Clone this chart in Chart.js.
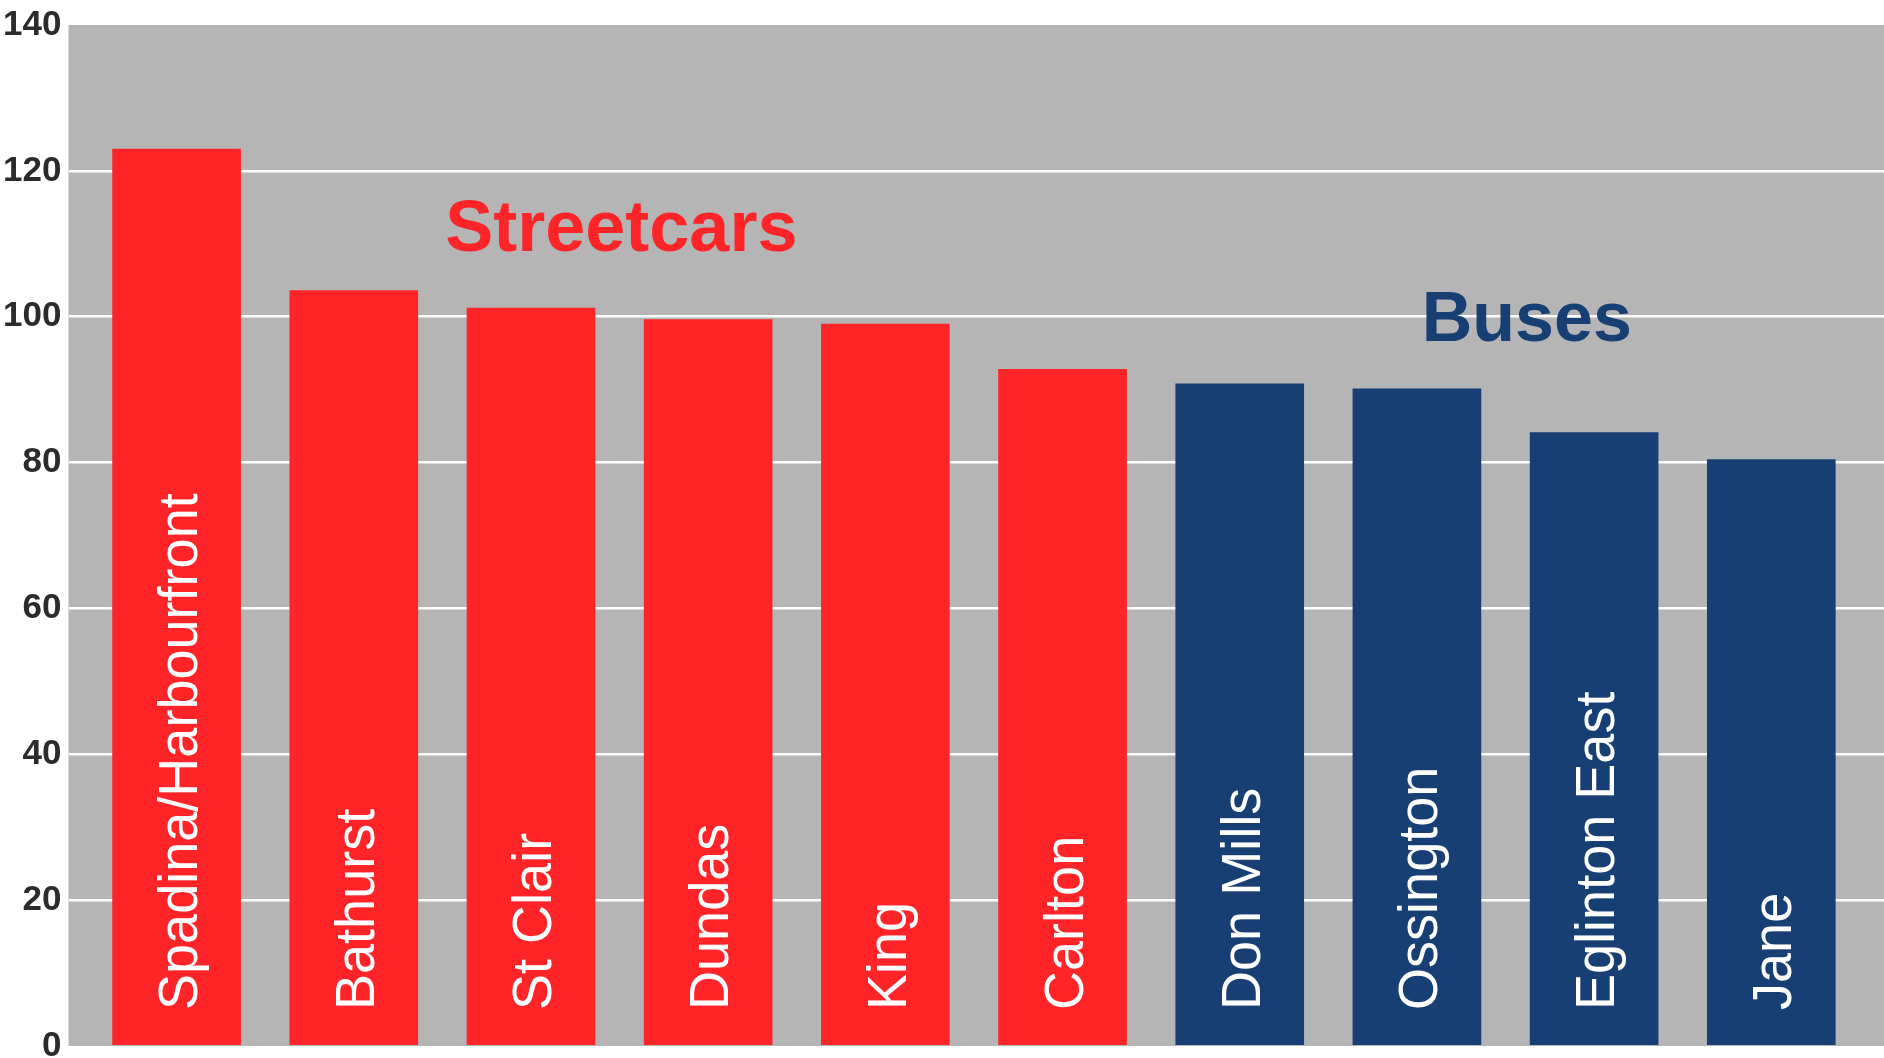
<!DOCTYPE html>
<html>
<head>
<meta charset="utf-8">
<style>
  html, body { margin: 0; padding: 0; background: #fff; }
  #wrap { width: 1884px; height: 1058px; position: relative; }
</style>
<script src="https://cdn.jsdelivr.net/npm/chart.js@4"></script>
</head>
<body>
<div id="wrap"><canvas id="routes"></canvas></div>
<script>
// busiest surface routes, ridership in thousands
const routes = ['Spadina/Harbourfront', 'Bathurst', 'St Clair', 'Dundas', 'King', 'Carlton',
                'Don Mills', 'Ossington', 'Eglinton East', 'Jane'];
const riders = [123.0, 103.6, 101.2, 99.6, 99.0, 92.8, 90.8, 90.1, 84.1, 80.4];
const mode = ['streetcar', 'streetcar', 'streetcar', 'streetcar', 'streetcar', 'streetcar',
              'bus', 'bus', 'bus', 'bus'];
const yTicks = [0, 20, 40, 60, 80, 100, 120, 140];

// group headings, placed in data units (x = route index, y = value)
const groupNames = ['Streetcars', 'Buses'];
const groupX = [2.51, 7.62];
const groupY = [109.0, 96.7];

const RED = '#ff2427';
const BLUE = '#183f74';
const GREY = '#b5b5b5';
const FONT = '"Liberation Sans", Arial, Helvetica, sans-serif';

const colorFor = m => (m === 'bus' ? BLUE : RED);

const plotBackground = {
    id: 'plotBackground',
    beforeDraw(chart) {
        const { ctx, chartArea: a } = chart;
        ctx.save();
        ctx.fillStyle = GREY;
        ctx.fillRect(a.left, a.top, a.right - a.left, a.bottom - a.top);
        ctx.restore();
    }
};

// route names written up the inside of each bar, plus the two group headings
const barLabels = {
    id: 'barLabels',
    afterDatasetsDraw(chart) {
        const { ctx, scales } = chart;
        const x = scales.x, y = scales.y;
        const size = 56;
        const base = y.getPixelForValue(0);
        ctx.save();
        ctx.fillStyle = '#ffffff';
        ctx.font = `${size}px ${FONT}`;
        ctx.textAlign = 'left';
        ctx.textBaseline = 'alphabetic';
        routes.forEach((name, i) => {
            const cx = x.getPixelForValue(i);
            ctx.save();
            ctx.translate(cx + size * 0.36, base - 36);
            ctx.rotate(-Math.PI / 2);
            ctx.scale(0.965, 1);
            ctx.fillText(name, 0, 0);
            ctx.restore();
        });

        ctx.textAlign = 'center';
        groupNames.forEach((g, i) => {
            ctx.fillStyle = i === 0 ? RED : BLUE;
            ctx.font = `bold ${i === 0 ? 72 : 70}px ${FONT}`;
            ctx.fillText(g, x.getPixelForValue(groupX[i]), y.getPixelForValue(groupY[i]));
        });
        ctx.restore();
    }
};

new Chart(document.getElementById('routes'), {
    type: 'bar',
    data: {
        datasets: [{
            data: riders.map((v, i) => ({ x: i, y: v })),
            backgroundColor: mode.map(colorFor),
            borderWidth: 0,
            barThickness: 128
        }]
    },
    options: {
        responsive: true,
        maintainAspectRatio: false,
        animation: false,
        layout: { padding: { top: 25, right: 0, bottom: 12, left: 0 } },
        plugins: {
            legend: { display: false },
            tooltip: { enabled: false }
        },
        scales: {
            x: {
                type: 'linear',
                min: -0.61,
                max: 9.636,
                offset: false,
                display: false,
                grid: { display: false }
            },
            y: {
                min: 0,
                max: 140,
                afterBuildTicks: s => { s.ticks = yTicks.map(v => ({ value: v })); },
                afterFit: s => {
                    s.width = 68.5;
                    s.paddingTop = 0;
                    s.paddingBottom = 0;
                },
                border: { display: false },
                grid: {
                    color: c => (c.tick.value === 0 || c.tick.value === 140) ? 'rgba(0,0,0,0)' : '#ffffff',
                    lineWidth: 2.5,
                    drawTicks: false
                },
                ticks: {
                    padding: 7,
                    color: '#2b2b2b',
                    font: { family: FONT, size: 35, weight: 'bold' }
                }
            }
        }
    },
    plugins: [plotBackground, barLabels]
});
</script>
</body>
</html>
